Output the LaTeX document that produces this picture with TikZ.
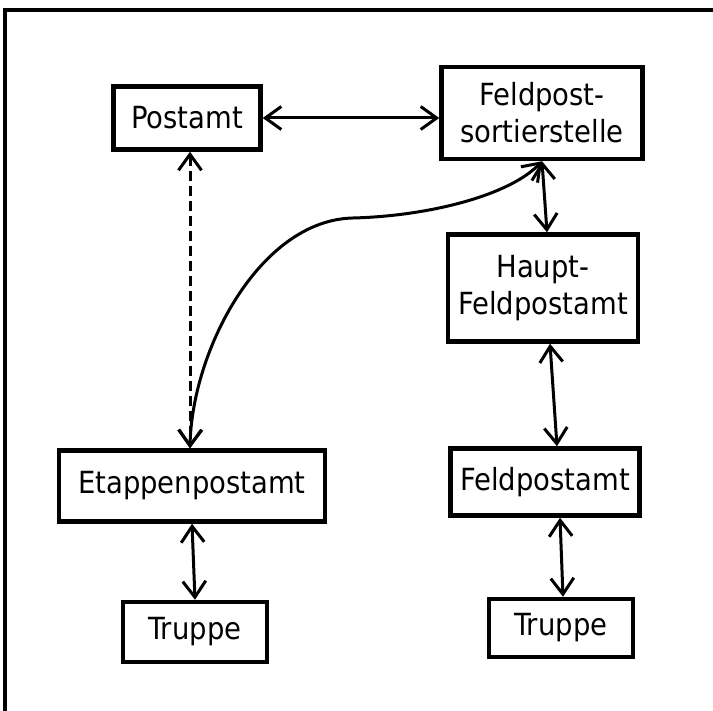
\documentclass[tikz,border=0pt]{standalone}
\usepackage{fontspec}
\setmainfont{DejaVu Sans Condensed}
\usetikzlibrary{arrows.meta}
\tikzstyle{amt}=[draw=black, line width=4.5pt, align=center, inner sep=0,
                font=\fontsize{30.5}{37}\selectfont, text=black]
\tikzstyle{weg}=[{Straight Barb[length=16pt,width=23pt]}-{Straight Barb[length=16pt,width=23pt]},
                line width=3pt]

\begin{document}
\begin{tikzpicture}[x=1pt,y=-1pt]
\useasboundingbox (0,0) rectangle (713,711);
\draw[line width=3.5pt] (5,711) -- (5,10) -- (713,10);
\node[amt, minimum width=147, minimum height=63] (post) at (187,118) {Postamt};
\node[amt, minimum width=201, minimum height=92] (sort) at (542,113) {Feldpost-\\sortierstelle};
\node[amt, minimum width=190, minimum height=107] (haupt) at (543,288) {Haupt-\\Feldpostamt};
\node[amt, minimum width=266, minimum height=71] (etap) at (192,486) {Etappenpostamt};
\node[amt, minimum width=189, minimum height=67] (feld) at (545,482) {Feldpostamt};
\node[amt, minimum width=144, minimum height=60] (truppeL) at (195,632) {Truppe};
\node[amt, minimum width=144, minimum height=58] (truppeR) at (561,628) {Truppe};
\path[weg]
  (post) edge (sort.west |- post)
  (sort.south) edge ([xshift=4]haupt.north)
  ([xshift=7]haupt.south) edge ([xshift=12]feld.north)
  ([xshift=15]feld.south) edge ([xshift=2]truppeR.north)
  (etap.south) edge (truppeL.north);
\draw[weg, dash pattern=on 10pt off 5pt] ([xshift=3]post.south) -- ([xshift=-2]etap.north);
\draw[weg] ([xshift=-2]etap.north) .. controls (192,350) and (260,220) .. (353,218)
  .. controls (430,216) and (510,195) .. (sort.south);
\end{tikzpicture}
\end{document}
